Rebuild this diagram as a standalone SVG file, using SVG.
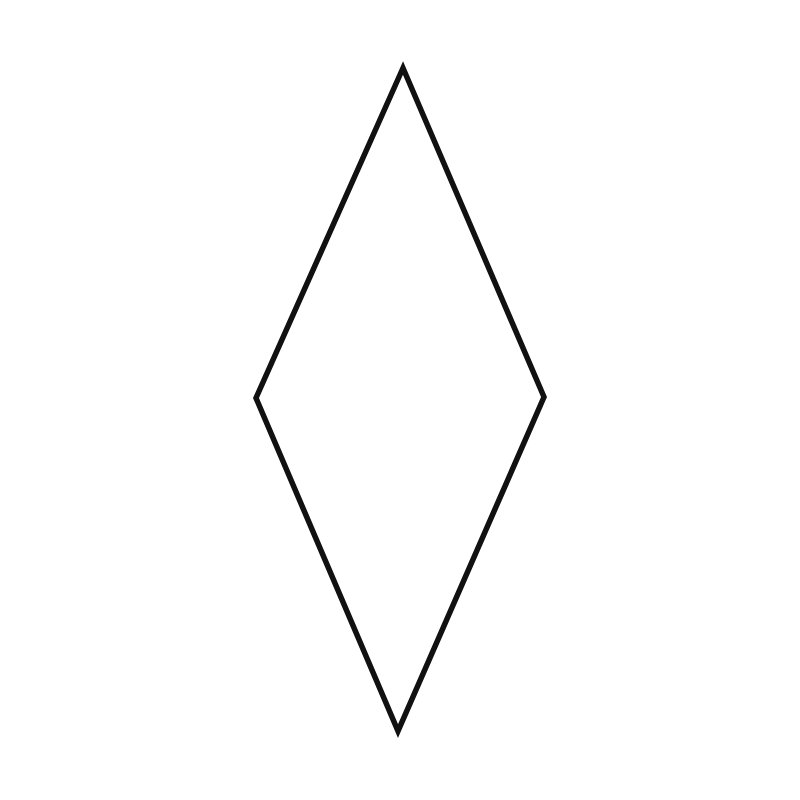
<svg xmlns="http://www.w3.org/2000/svg" width="800" height="800" viewBox="0 0 800 800">
<style>.shape{fill:#fff;stroke:#111;stroke-width:5.5;stroke-linejoin:miter;stroke-miterlimit:10}</style>
<rect width="800" height="800" fill="#fff"/>
<g id="diamond">
<polygon class="shape" points="403,68 544,397 398,731 256,398"/>
</g>
</svg>
